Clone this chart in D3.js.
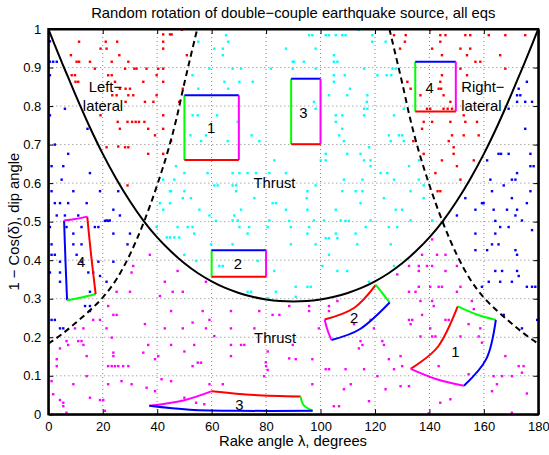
<!DOCTYPE html>
<html><head><meta charset="utf-8">
<script src="https://cdn.jsdelivr.net/npm/d3@7"></script>
<style>body{margin:0;background:#fff}svg{display:block;font-family:"Liberation Sans",Arial,sans-serif}</style>
</head><body><svg id="c" width="549" height="455"></svg>
<script>
// ---------- data ----------
const xTicks = [0,20,40,60,80,100,120,140,160,180];
const yTicks = [0,0.1,0.2,0.3,0.4,0.5,0.6,0.7,0.8,0.9,1];
const yTickLabels = ["0","0.1","0.2","0.3","0.4","0.5","0.6","0.7","0.8","0.9","1"];

// solid boundary curve (rake, 1-cos(dip))
const solidCurve = [[0,1],[1,0.983],[2.5,0.956],[5,0.913],[7.5,0.871],[10,0.829],[15,0.749],[20,0.676],[25,0.611],[30,0.553],[35,0.502],[40,0.459],[45,0.423],[50,0.392],[55,0.366],[60,0.345],[65,0.328],[70,0.315],[75,0.305],[80,0.298],[85,0.294],[90,0.293],[95,0.294],[100,0.298],[105,0.305],[110,0.315],[115,0.328],[120,0.345],[125,0.366],[130,0.392],[135,0.423],[140,0.459],[145,0.502],[150,0.553],[155,0.611],[160,0.676],[165,0.749],[170,0.829],[172.5,0.871],[175,0.913],[177.5,0.956],[179,0.983],[180,1]];
// dashed boundary curves
const dashedLeft = [[0,0.183],[5,0.208],[10,0.237],[15,0.268],[20,0.303],[25,0.350],[30,0.415],[35,0.497],[40,0.595],[44,0.685],[47,0.765],[50,0.86],[52.5,0.935],[54.7,1.0]];
const dashedRight = [[125.3,1.0],[127.5,0.935],[130,0.86],[133,0.765],[136,0.685],[140,0.595],[145,0.497],[150,0.415],[155,0.350],[160,0.303],[165,0.268],[170,0.237],[175,0.208],[180,0.183]];

const redPts = [[42.2,0.986],[44.7,0.986],[11.3,0.967],[21.1,0.967],[25.3,0.967],[42.2,0.967],[19.2,0.949],[21.4,0.949],[42.2,0.949],[8.3,0.932],[26.1,0.932],[10.4,0.915],[11.3,0.915],[15.3,0.915],[23.3,0.915],[29.4,0.915],[17.1,0.897],[28.2,0.897],[31.6,0.897],[32.4,0.897],[36.1,0.897],[40.4,0.897],[42.2,0.897],[8.6,0.88],[9.8,0.88],[22.0,0.88],[23.3,0.88],[39.8,0.88],[10.0,0.863],[11.0,0.863],[24.5,0.863],[34.9,0.863],[42.2,0.863],[26.3,0.845],[28.4,0.845],[30.0,0.845],[23.5,0.828],[25.1,0.828],[29.4,0.828],[31.2,0.828],[39.8,0.828],[28.4,0.811],[35.5,0.811],[38.6,0.811],[19.2,0.776],[42.2,0.776],[25.5,0.759],[29.1,0.759],[30.8,0.759],[32.1,0.759],[33.3,0.759],[35.3,0.759],[26.3,0.741],[36.7,0.741],[42.2,0.741],[39.2,0.724],[21.4,0.693],[28.2,0.693],[29.4,0.693],[25.7,0.695],[36.7,0.676],[42.2,0.676],[29.1,0.594],[45.3,0.986],[49.1,0.998],[50.9,0.932],[49.4,0.845],[48.1,0.811],[45.1,0.709],
[127.0,0.984],[131.3,0.984],[131.0,0.967],[129.2,0.949],[131.9,0.863],[133.1,0.845],[134.1,0.709],[140.3,0.998],[144.0,0.984],[145.9,0.984],[153.2,0.984],[155.0,0.984],[161.8,0.984],[167.9,0.984],[175.2,0.984],[144.0,0.967],[141.0,0.949],[151.4,0.949],[155.0,0.949],[144.6,0.932],[153.8,0.932],[166.0,0.932],[156.9,0.915],[158.7,0.915],[151.4,0.897],[167.9,0.897],[144.6,0.88],[153.8,0.88],[144.0,0.863],[143.4,0.845],[144.3,0.845],[145.2,0.828],[136.7,0.828],[147.7,0.811],[139.1,0.793],[140.3,0.793],[145.2,0.793],[146.7,0.793],[148.3,0.793],[152.6,0.776],[137.9,0.759],[141.0,0.759],[147.7,0.759],[153.2,0.759],[157.5,0.759],[137.3,0.741],[148.3,0.724],[152.6,0.724],[158.1,0.724],[147.1,0.709],[148.9,0.693],[137.9,0.676],[148.9,0.676],[144.6,0.659],[156.3,0.659],[150.1,0.644],[142.2,0.626],[151.4,0.609],[143.0,0.579],[144.0,0.579]];

const bluePts = [[0.6,0.968],[0.6,0.915],[1.8,0.915],[3.1,0.915],[0.6,0.88],[6.1,0.793],[0.6,0.776],[14.4,0.741],[2.4,0.70],[7.3,0.676],[1.2,0.644],[5.5,0.644],[15.3,0.626],[4.9,0.609],[1.2,0.579],[9.2,0.579],[19.0,0.579],[25.7,0.579],[2.4,0.548],[4.3,0.548],[7.3,0.548],[14.1,0.548],[23.9,0.531],[3.1,0.516],[6.1,0.516],[11.0,0.516],[26.3,0.516],[21.4,0.503],[22.6,0.503],[0.6,0.486],[6.7,0.486],[12.2,0.486],[17.1,0.486],[18.4,0.486],[20.8,0.502],[22.0,0.502],[9.2,0.469],[23.9,0.469],[30.0,0.469],[1.2,0.441],[9.2,0.441],[12.2,0.441],[29.1,0.441],[1.2,0.414],[2.4,0.414],[10.4,0.414],[4.3,0.396],[12.2,0.396],[18.4,0.396],[23.9,0.396],[0.6,0.368],[4.3,0.368],[14.7,0.368],[16.5,0.368],[19.0,0.359],[4.3,0.344],[21.4,0.344],[15.3,0.318],[13.5,0.281],[15.3,0.281],[15.3,0.268],[1.2,0.245],[2.4,0.245],[4.3,0.223],[5.5,0.223],
[175.8,0.863],[172.8,0.845],[172.2,0.828],[173.4,0.828],[172.2,0.811],[175.2,0.811],[177.7,0.811],[169.1,0.793],[175.2,0.741],[165.4,0.676],[166.3,0.676],[169.1,0.676],[177.1,0.676],[161.2,0.659],[177.1,0.644],[178.3,0.644],[172.2,0.626],[162.4,0.609],[170.3,0.609],[171.6,0.609],[167.3,0.594],[163.0,0.579],[177.1,0.579],[153.2,0.561],[170.3,0.561],[159.3,0.548],[159.9,0.548],[175.8,0.548],[156.9,0.531],[163.6,0.531],[168.5,0.531],[172.2,0.531],[150.1,0.516],[171.6,0.516],[174.0,0.503],[164.2,0.502],[166.0,0.486],[169.1,0.486],[156.9,0.469],[164.2,0.469],[177.7,0.478],[163.0,0.441],[165.4,0.441],[156.9,0.426],[161.2,0.426],[171.6,0.426],[172.2,0.414],[164.2,0.372],[166.7,0.372],[172.2,0.372],[161.8,0.344],[166.0,0.344],[170.3,0.344],[172.8,0.359],[159.3,0.331],[175.8,0.331],[177.7,0.331],[178.9,0.331],[167.3,0.258],[174.0,0.223],[179.6,0.245]];

const cyanPts = [[42.2,0.609],[44.7,0.579],[41.0,0.548],[44.7,0.548],[42.2,0.531],
[55.1,0.967],[65.3,0.984],[66.1,0.967],[61.0,0.949],[64.1,0.949],[87.3,0.949],[64.1,0.932],[89.8,0.915],[59.2,0.897],[67.7,0.897],[70.8,0.897],[81.8,0.897],[89.8,0.897],[53.0,0.88],[64.7,0.863],[70.2,0.863],[75.1,0.863],[55.1,0.845],[66.1,0.845],[53.0,0.776],[54.9,0.776],[62.0,0.776],[69.6,0.759],[52.2,0.724],[57.9,0.724],[74.7,0.724],[56.1,0.709],[65.9,0.709],[77.5,0.709],[83.0,0.659],[46.9,0.644],[50.0,0.626],[58.5,0.626],[67.7,0.626],[70.2,0.626],[73.2,0.626],[76.3,0.626],[81.2,0.626],[87.3,0.626],[46.3,0.609],[61.0,0.594],[62.2,0.594],[67.7,0.594],[69.0,0.594],[45.1,0.579],[50.0,0.579],[69.0,0.579],[49.4,0.561],[52.4,0.561],[75.7,0.561],[82.4,0.548],[83.6,0.548],[55.5,0.531],[70.8,0.531],[87.3,0.531],[59.2,0.516],[68.3,0.516],[67.7,0.503],[69.6,0.503],[81.2,0.503],
[95.8,0.984],[97.0,0.984],[101.9,0.984],[103.1,0.984],[105.6,0.984],[108.0,0.984],[109.2,0.984],[114.1,0.998],[119.0,0.984],[119.0,0.967],[123.9,0.967],[98.2,0.949],[104.9,0.932],[90.3,0.915],[93.9,0.915],[104.9,0.915],[106.2,0.915],[98.2,0.897],[116.0,0.897],[126.4,0.897],[127.6,0.897],[104.9,0.88],[108.9,0.88],[120.9,0.88],[124.3,0.88],[126.0,0.88],[104.9,0.863],[110.8,0.845],[103.1,0.828],[109.8,0.828],[117.2,0.828],[97.6,0.811],[117.0,0.811],[98.2,0.793],[116.0,0.793],[117.2,0.793],[130.6,0.793],[105.6,0.776],[108.0,0.776],[116.0,0.776],[127.0,0.776],[105.6,0.759],[108.0,0.741],[106.8,0.724],[125.1,0.724],[128.8,0.724],[130.0,0.724],[108.6,0.709],[125.8,0.709],[130.6,0.709],[117.8,0.693],[101.9,0.676],[109.8,0.676],[114.7,0.676],[100.1,0.659],[101.9,0.659],[116.0,0.659],[118.4,0.659],[118.4,0.644],[132.5,0.644],[122.1,0.626],[124.5,0.626],[98.2,0.594],[108.6,0.609],[115.4,0.609],[127.0,0.609],[95.2,0.579],[108.0,0.579],[112.9,0.579],[115.4,0.579],[133.1,0.579],[94.9,0.561],[123.3,0.561],[114.7,0.548],[95.2,0.531],[105.6,0.531],[127.6,0.531],[130.0,0.531],[97.6,0.503],[101.3,0.503],[107.4,0.503],[118.4,0.503],[133.1,0.503],
[136.1,0.659],[136.1,0.609],[137.9,0.594],[137.9,0.561],[141.0,0.503],[141.0,0.502],
[47.5,0.486],[51.2,0.486],[53.0,0.486],[70.2,0.486],[73.8,0.486],[80.6,0.486],[89.1,0.486],[46.3,0.459],[48.1,0.459],[53.6,0.469],[73.2,0.469],[88.5,0.502],[61.6,0.502],[59.8,0.441],[67.7,0.441],[89.1,0.441],[50.0,0.414],[54.3,0.398],[62.8,0.385],[64.1,0.385],[76.9,0.398],[83.0,0.372],[73.2,0.318],[74.5,0.318],[83.6,0.318],[80.8,0.301],[39.8,0.486],[43.5,0.459],[44.7,0.459],
[95.8,0.486],[109.2,0.502],[110.4,0.502],[116.6,0.486],[125.1,0.486],[128.2,0.486],[95.2,0.469],[105.6,0.469],[112.9,0.469],[101.9,0.457],[103.1,0.457],[106.2,0.457],[98.2,0.441],[113.5,0.441],[125.8,0.441],[103.1,0.414],[100.7,0.385],[127.0,0.385],[106.2,0.372],[109.8,0.372],[90.9,0.331],[95.2,0.331],[96.4,0.331],[117.8,0.344],[90.9,0.305]];

const magentaPts = [[37.3,0.414],[31.2,0.385],[30.6,0.368],[42.8,0.344],[25.1,0.318],[30.0,0.318],[41.0,0.307],[22.0,0.281],[23.9,0.258],[25.1,0.258],[35.5,0.234],[16.5,0.245],[19.0,0.245],[9.8,0.223],[12.9,0.223],[21.4,0.223],[42.8,0.223],[6.7,0.19],[11.0,0.19],[12.2,0.19],[23.3,0.199],[7.3,0.18],[12.9,0.18],[36.7,0.18],[4.3,0.171],[23.9,0.16],[34.9,0.16],[14.1,0.151],[23.9,0.151],[40.4,0.151],[3.1,0.143],[39.2,0.143],[22.0,0.125],[23.3,0.125],[24.5,0.125],[25.7,0.125],[27.5,0.125],[29.4,0.125],[3.1,0.125],[14.1,0.099],[41.6,0.091],[1.2,0.086],[26.9,0.086],[9.2,0.078],[22.0,0.078],[30.6,0.078],[1.8,0.052],[36.1,0.069],[39.2,0.06],[15.3,0.043],[19.0,0.037],[20.2,0.037],[4.3,0.037],[5.5,0.030],[5.5,0.021],[6.7,0.004],[20.8,0.009],
[47.5,0.372],[45.7,0.318],[49.4,0.318],[57.9,0.344],[45.1,0.268],[56.7,0.268],[67.1,0.268],[77.5,0.268],[82.4,0.258],[84.9,0.258],[88.5,0.281],[59.2,0.245],[53.0,0.238],[49.4,0.223],[57.9,0.223],[67.1,0.223],[75.7,0.223],[61.0,0.203],[45.1,0.18],[53.6,0.18],[67.1,0.18],[70.8,0.18],[72.0,0.18],[89.8,0.18],[50.0,0.163],[80.6,0.163],[88.5,0.145],[67.1,0.151],[54.9,0.134],[56.1,0.134],[53.0,0.125],[80.0,0.125],[79.9,0.135],[80.6,0.115],[79.3,0.099],[45.1,0.086],[59.2,0.078],[64.1,0.078],[50.0,0.043],[54.3,0.03],[57.3,0.026],
[132.5,0.385],[128.2,0.363],[132.5,0.318],[134.9,0.318],[106.2,0.294],[95.8,0.281],[103.1,0.281],[95.8,0.268],[103.1,0.268],[118.4,0.245],[132.5,0.245],[133.7,0.245],[99.4,0.223],[112.3,0.234],[119.6,0.223],[133.1,0.234],[114.7,0.19],[115.4,0.18],[114.1,0.171],[122.7,0.19],[123.3,0.18],[90.9,0.143],[97.0,0.143],[125.1,0.143],[129.4,0.151],[130.0,0.125],[101.9,0.117],[103.1,0.117],[109.2,0.117],[116.0,0.117],[127.0,0.117],[120.9,0.099],[97.0,0.078],[111.1,0.078],[129.4,0.073],[132.5,0.073],[108.6,0.065],[123.9,0.065],[117.8,0.034],[104.9,0.021],[106.8,0.021],
[141.0,0.454],[137.3,0.414],[142.8,0.414],[145.9,0.414],[136.1,0.385],[139.1,0.385],[141.0,0.385],[150.1,0.385],[136.1,0.372],[145.9,0.372],[136.1,0.331],[140.3,0.331],[143.4,0.331],[144.6,0.331],[151.4,0.331],[150.1,0.318],[136.7,0.294],[141.0,0.294],[155.6,0.294],[141.6,0.281],[156.3,0.273],[137.3,0.258],[145.9,0.245],[147.1,0.245],[154.4,0.234],[140.3,0.223],[158.7,0.223],[136.7,0.202],[141.0,0.202],[142.2,0.202],[151.4,0.202],[158.1,0.202],[159.3,0.186],[167.9,0.151],[143.4,0.125],[172.8,0.125],[174.6,0.125],[174.0,0.108],[154.4,0.104],[163.6,0.099],[166.7,0.099],[170.3,0.099],[164.8,0.078],[163.0,0.06],[175.8,0.054],[147.7,0.039],[144.0,0.03],[170.3,0.004],[139.7,0.002]];

// region outlines: each side [colour, points]
const regions = [
  {label:"1", at:[59.8,0.744], sides:[["#00ff00",[[50,0.66],[50,0.828]]],["#0000ff",[[50,0.828],[70,0.828]]],["#ff00ff",[[70,0.828],[70,0.66]]],["#ff0000",[[70,0.66],[50,0.66]]]]},
  {label:"3", at:[93.7,0.783], sides:[["#00ff00",[[89.2,0.701],[89.2,0.871]]],["#0000ff",[[89.2,0.871],[100,0.871]]],["#ff00ff",[[100,0.871],[100,0.701]]],["#ff0000",[[100,0.701],[89.2,0.701]]]]},
  {label:"4", at:[140.1,0.848], sides:[["#00ff00",[[134.8,0.786],[134.8,0.915]]],["#0000ff",[[134.8,0.915],[149.7,0.915]]],["#ff00ff",[[149.7,0.915],[149.7,0.786]]],["#ff0000",[[149.7,0.786],[134.8,0.786]]]]},
  {label:"2", at:[69.6,0.390], sides:[["#00ff00",[[60,0.357],[60,0.426]]],["#0000ff",[[60,0.426],[80,0.426]]],["#ff00ff",[[80,0.426],[80,0.357]]],["#ff0000",[[80,0.357],[60,0.357]]]]},
  {label:"4", at:[12.1,0.396], sides:[["#0000ff",[[5.8,0.503],[6.3,0.40],[6.9,0.296]]],["#00ff00",[[6.9,0.296],[12.2,0.303],[17.4,0.312]]],["#ff0000",[[17.4,0.312],[15.7,0.415],[14.3,0.513]]],["#ff00ff",[[14.3,0.513],[10,0.507],[5.8,0.503]]]]},
  {label:"2", at:[112.3,0.251], sides:[["#ff0000",[[101.5,0.246],[112.3,0.276],[120.3,0.336]]],["#00ff00",[[120.3,0.336],[123,0.312],[125.4,0.29]]],["#0000ff",[[125.4,0.29],[114.7,0.222],[104.0,0.193]]],["#ff00ff",[[104.0,0.193],[102.5,0.22],[101.5,0.246]]]]},
  {label:"1", at:[149.5,0.163], sides:[["#ff0000",[[133.1,0.118],[143.2,0.176],[150.4,0.280]]],["#00ff00",[[150.4,0.28],[157.4,0.259],[164.4,0.245]]],["#0000ff",[[164.4,0.245],[161.0,0.145],[152.7,0.074]]],["#ff00ff",[[152.7,0.074],[142.7,0.091],[133.1,0.118]]]]},
  {label:"3", at:[70.2,0.024], sides:[["#ff00ff",[[37.1,0.022],[49.6,0.036],[60.1,0.060]]],["#ff0000",[[60.1,0.060],[75.7,0.050],[92.7,0.046]]],["#00ff00",[[92.7,0.046],[93.8,0.024],[97.1,0.009]]],["#0000ff",[[97.1,0.009],[70,0.009],[52,0.012],[37.1,0.022]]]]}
];
const textLabels = [
  {t:"Left\u2212", at:[21.0,0.850], anchor:"middle"},
  {t:"lateral", at:[20.1,0.802], anchor:"middle"},
  {t:"Right\u2212", at:[151.7,0.850], anchor:"start"},
  {t:"lateral", at:[151.7,0.802], anchor:"start"},
  {t:"Thrust", at:[75.4,0.601], anchor:"start"},
  {t:"Thrust", at:[75.6,0.199], anchor:"start"}
];
const titleText = "Random rotation of double\u2212couple earthquake source, all eqs";
const xLabel = "Rake angle \u03bb, degrees";
const yLabel = "1 \u2212 Cos(\u03b4), dip angle";

// ---------- drawing ----------
const svg = d3.select("#c");
const L=48.3, R=538.3, T=29, B=414.3;
const FS = 14.8;
const x = d3.scaleLinear().domain([0,180]).range([L,R]);
const y = d3.scaleLinear().domain([0,1]).range([B,T]);

svg.append("defs").append("clipPath").attr("id","pa").append("rect")
  .attr("x",L).attr("y",T).attr("width",R-L).attr("height",B-T);

// grid
const grid = svg.append("g").attr("stroke","#666").attr("stroke-width",0.8).attr("stroke-dasharray","1,3");
grid.selectAll("line.gx").data(xTicks.slice(1,-1)).join("line")
  .attr("x1",d=>x(d)).attr("x2",d=>x(d)).attr("y1",T).attr("y2",B);
grid.selectAll("line.gy").data(yTicks.slice(1,-1)).join("line")
  .attr("y1",d=>y(d)).attr("y2",d=>y(d)).attr("x1",L).attr("x2",R);

// dots
const dots = svg.append("g").attr("clip-path","url(#pa)");
[[bluePts,"#0000ff"],[redPts,"#ff0000"],[cyanPts,"#00ffff"],[magentaPts,"#ff00ff"]].forEach(([pts,c])=>{
  dots.append("g").selectAll("rect").data(pts).join("rect")
    .attr("x",d=>x(d[0])-1.2).attr("y",d=>y(d[1])-1.2).attr("width",2.4).attr("height",2.4).attr("fill",c);
});

// curves
const line = d3.line().x(d=>x(d[0])).y(d=>y(d[1])).curve(d3.curveMonotoneX);
const cg = svg.append("g").attr("clip-path","url(#pa)").attr("fill","none").attr("stroke","#000").attr("stroke-width",2);
cg.append("path").attr("d",line(solidCurve));
cg.append("path").attr("d",line(dashedLeft)).attr("stroke-dasharray","6,4");
cg.append("path").attr("d",line(dashedRight)).attr("stroke-dasharray","6,4");

// region outlines
const sideLine = d3.line().x(d=>x(d[0])).y(d=>y(d[1])).curve(d3.curveCardinal.tension(0));
const rg = svg.append("g").attr("fill","none").attr("stroke-width",2);
regions.forEach(r=>{
  r.sides.forEach(([c,pts])=>rg.append("path").attr("d",sideLine(pts)).attr("stroke",c));
});
svg.append("g").selectAll("text").data(regions).join("text")
  .attr("x",d=>x(d.at[0])).attr("y",d=>y(d.at[1])).attr("dy","0.36em")
  .attr("text-anchor","middle").attr("font-size",FS).text(d=>d.label);

svg.append("g").selectAll("text").data(textLabels).join("text")
  .attr("x",d=>x(d.at[0])).attr("y",d=>y(d.at[1])).attr("dy","0.36em")
  .attr("text-anchor",d=>d.anchor).attr("font-size",FS).text(d=>d.t);

// axes
const fmt = d=>yTickLabels[yTicks.indexOf(d)];
const ax = svg.append("g").attr("transform",`translate(0,${B})`)
  .call(d3.axisBottom(x).tickValues(xTicks).tickSizeInner(-5).tickSizeOuter(0).tickPadding(7));
const ay = svg.append("g").attr("transform",`translate(${L},0)`)
  .call(d3.axisLeft(y).tickValues(yTicks).tickFormat(fmt).tickSizeInner(-5).tickSizeOuter(0).tickPadding(7));
const at = svg.append("g").attr("transform",`translate(0,${T})`)
  .call(d3.axisTop(x).tickValues(xTicks).tickSizeInner(-5).tickSizeOuter(0).tickFormat(""));
const ar = svg.append("g").attr("transform",`translate(${R},0)`)
  .call(d3.axisRight(y).tickValues(yTicks).tickSizeInner(-5).tickSizeOuter(0).tickFormat(""));
[ax,ay,at,ar].forEach(g=>{
  g.select(".domain").attr("stroke","#000").attr("stroke-width",2);
  g.selectAll(".tick line").attr("stroke","#000").attr("stroke-width",1);
  g.selectAll(".tick text").attr("font-size",13).attr("fill","#000").attr("font-family","Liberation Sans, Arial, sans-serif");
});
svg.append("rect").attr("x",L).attr("y",T).attr("width",R-L).attr("height",B-T)
  .attr("fill","none").attr("stroke","#000").attr("stroke-width",2);

svg.append("text").attr("x",(L+R)/2).attr("y",18).attr("text-anchor","middle").attr("font-size",FS).text(titleText);
svg.append("text").attr("x",293).attr("y",446).attr("text-anchor","middle").attr("font-size",FS).text(xLabel);
svg.append("text").attr("transform",`translate(19,${(T+B)/2}) rotate(-90)`).attr("text-anchor","middle").attr("font-size",FS).text(yLabel);
</script></body></html>
